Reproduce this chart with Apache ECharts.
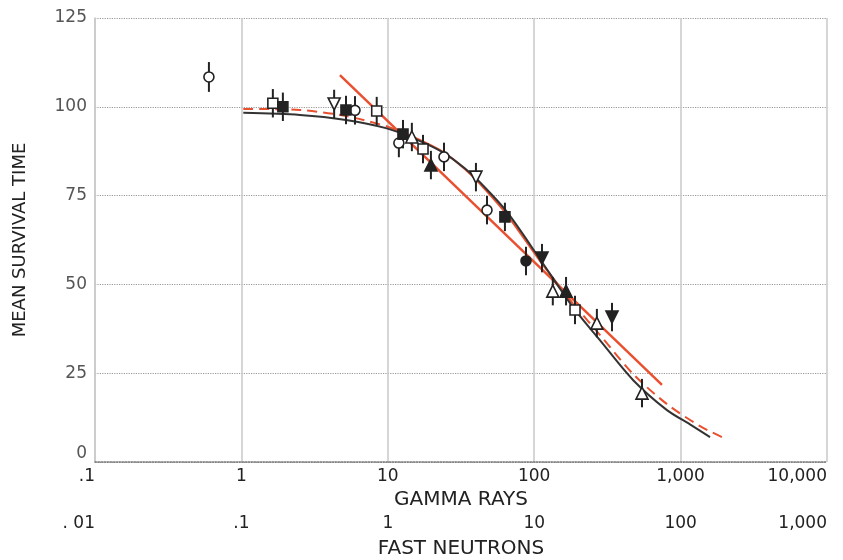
<!DOCTYPE html>
<html>
<head>
<meta charset="utf-8">
<script src="https://cdn.jsdelivr.net/npm/echarts@6/dist/echarts.min.js"></script>
<style>
  html, body { margin: 0; padding: 0; background: #fff; }
  #chart { width: 843px; height: 560px; }
</style>
</head>
<body>
<div id="chart"></div>
<script>
// Mean survival time against dose (gamma rays, with the equivalent fast-neutron scale)

// Tick labels of the two dose scales, one per decade
const gammaTicks = ['.1', '1', '10', '100', '1,000', '10,000'];
const neutronTicks = ['. 01', '.1', '1', '10', '100', '1,000'];
const yTicks = [0, 25, 50, 75, 100, 125];

// Observations grouped by plotting symbol: dose, mean survival time, error half-length
const openCircleX = [0.60, 5.97, 11.9, 24.2, 47.6];
const openCircleY = [108.4, 99.0, 89.8, 85.9, 70.9];
const openCircleErr = [4.2, 4.0, 4.0, 4.0, 4.0];

const filledCircleX = [87.9];
const filledCircleY = [56.6];
const filledCircleErr = [4.0];

const openSquareX = [1.64, 8.4, 17.4, 190];
const openSquareY = [101.0, 98.8, 88.1, 42.8];
const openSquareErr = [4.0, 4.0, 4.0, 4.0];

const filledSquareX = [1.92, 5.18, 12.7, 63.1];
const filledSquareY = [100.0, 99.1, 92.3, 69.0];
const filledSquareErr = [4.0, 4.0, 4.0, 4.0];

const openTriUpX = [14.6, 134, 268, 545];
const openTriUpY = [91.5, 48.1, 39.1, 19.4];
const openTriUpErr = [4.0, 4.0, 4.0, 4.0];

const filledTriUpX = [19.7, 165];
const filledTriUpY = [83.6, 48.1];
const filledTriUpErr = [4.0, 4.0];

const openTriDownX = [4.3, 40];
const openTriDownY = [100.8, 80.2];
const openTriDownErr = [4.0, 4.0];

const filledTriDownX = [113, 340];
const filledTriDownY = [57.4, 40.8];
const filledTriDownErr = [4.0, 4.0];

// Fitted curves
const blackCurveX = [1.03, 2.51, 5.18, 9.7, 14.9, 23.8, 33.7, 46.1, 65.2, 110, 184, 281, 473, 807, 1159, 1589];
const blackCurveY = [98.3, 97.7, 96.3, 94.0, 91.2, 87.2, 82.6, 77.3, 70.4, 57.0, 43.6, 34.3, 23.1, 14.6, 10.6, 7.0];

const redCurveX = [1.03, 2.51, 5.18, 9.7, 14.9, 23.8, 33.7, 46.1, 65.2, 110, 184, 281, 473, 807, 1358, 1920];
const redCurveY = [99.4, 99.1, 97.4, 94.6, 91.5, 87.3, 82.4, 76.8, 69.6, 56.5, 44.6, 35.8, 24.8, 16.3, 10.1, 7.0];

const redLineX = [4.71, 746];
const redLineY = [108.9, 21.7];

const FONT = 'DejaVu Sans';
const INK = '#222';
const RED = '#e8502f';

function zip(xs, ys) { return xs.map((x, i) => [x, ys[i]]); }
function decade(v) { return Math.round(Math.log10(v)); }

const groups = [
  { x: openCircleX, y: openCircleY, e: openCircleErr, symbol: 'circle', filled: false, rot: 0, size: 10 },
  { x: filledCircleX, y: filledCircleY, e: filledCircleErr, symbol: 'circle', filled: true, rot: 0, size: 10 },
  { x: openSquareX, y: openSquareY, e: openSquareErr, symbol: 'rect', filled: false, rot: 0, size: 10 },
  { x: filledSquareX, y: filledSquareY, e: filledSquareErr, symbol: 'rect', filled: true, rot: 0, size: 10 },
  { x: openTriUpX, y: openTriUpY, e: openTriUpErr, symbol: 'triangle', filled: false, rot: 0, size: 12 },
  { x: filledTriUpX, y: filledTriUpY, e: filledTriUpErr, symbol: 'triangle', filled: true, rot: 0, size: 12 },
  { x: openTriDownX, y: openTriDownY, e: openTriDownErr, symbol: 'triangle', filled: false, rot: 180, size: 12 },
  { x: filledTriDownX, y: filledTriDownY, e: filledTriDownErr, symbol: 'triangle', filled: true, rot: 180, size: 12 }
];

const errData = [];
groups.forEach(g => g.x.forEach((x, i) => errData.push([x, g.y[i], g.e[i]])));

// Red fitted curve: dashed on the flat top and on the tail, solid in between
const redSolidFrom = 3, redSolidTo = 10;
const redPts = zip(redCurveX, redCurveY);

const series = [
  {
    type: 'line', data: redPts.slice(0, redSolidFrom + 1), smooth: 0.3, showSymbol: false,
    lineStyle: { color: RED, width: 2, type: [10, 6] }, z: 3, silent: true
  },
  {
    type: 'line', data: redPts.slice(redSolidFrom, redSolidTo + 1), smooth: 0.3, showSymbol: false,
    lineStyle: { color: RED, width: 2 }, z: 3, silent: true
  },
  {
    type: 'line', data: redPts.slice(redSolidTo), smooth: 0.3, showSymbol: false,
    lineStyle: { color: RED, width: 2, type: [10, 6] }, z: 3, silent: true
  },
  {
    type: 'line', data: zip(redLineX, redLineY), showSymbol: false,
    lineStyle: { color: RED, width: 2.5 }, z: 3, silent: true
  },
  {
    type: 'line', data: zip(blackCurveX, blackCurveY), smooth: 0.3, showSymbol: false,
    lineStyle: { color: '#333', width: 2 }, z: 4, silent: true
  },
  {
    type: 'custom', data: errData, z: 5, silent: true,
    renderItem: function (params, api) {
      const x = api.value(0), y = api.value(1), e = api.value(2);
      const a = api.coord([x, y + e]);
      const b = api.coord([x, y - e]);
      return { type: 'line', shape: { x1: a[0], y1: a[1], x2: b[0], y2: b[1] },
               style: { stroke: INK, lineWidth: 2 } };
    }
  }
];

groups.forEach(g => {
  series.push({
    type: 'scatter', data: zip(g.x, g.y), symbol: g.symbol, symbolSize: g.size,
    symbolRotate: g.rot, z: 6, silent: true,
    itemStyle: { color: g.filled ? INK : '#fff', borderColor: INK, borderWidth: 1.6, opacity: 1 }
  });
});

const chart = echarts.init(document.getElementById('chart'), null, { renderer: 'canvas' });
chart.setOption({
  animation: false,
  backgroundColor: '#fff',
  grid: { left: 95, right: 16, top: 18, bottom: 98, containLabel: false, outerBoundsMode: 'none' },
  xAxis: [
    {
      type: 'log', logBase: 10, min: 0.1, max: 10000,
      name: 'GAMMA RAYS', nameLocation: 'middle', nameGap: 25,
      nameTextStyle: { fontFamily: FONT, fontSize: 20, color: INK },
      axisLine: { show: true, lineStyle: { color: '#777', type: 'dotted', width: 1.5 } },
      axisTick: { show: false },
      axisLabel: {
        fontFamily: FONT, fontSize: 17, color: INK, margin: 6,
        alignMinLabel: 'right', alignMaxLabel: 'right',
        formatter: v => gammaTicks[decade(v) + 1]
      },
      splitLine: { show: true, lineStyle: { color: '#c8c8c8', width: 1.5 } },
      minorTick: { show: false }
    },
    {
      type: 'log', logBase: 10, min: 0.01, max: 1000, position: 'bottom', offset: 48,
      name: 'FAST NEUTRONS', nameLocation: 'middle', nameGap: 29,
      nameTextStyle: { fontFamily: FONT, fontSize: 20, color: INK },
      axisLine: { show: false }, axisTick: { show: false }, splitLine: { show: false },
      axisLabel: {
        fontFamily: FONT, fontSize: 17, color: INK, margin: 5,
        alignMinLabel: 'right', alignMaxLabel: 'right',
        formatter: v => neutronTicks[decade(v) + 2]
      }
    }
  ],
  yAxis: {
    type: 'value', min: 0, max: 125, interval: 25,
    name: 'MEAN SURVIVAL TIME', nameLocation: 'middle', nameGap: 66, nameRotate: 90,
    nameTextStyle: { fontFamily: FONT, fontSize: 18, color: INK },
    axisLine: { show: true, lineStyle: { color: '#c8c8c8', width: 1.5 } },
    axisTick: { show: false },
    axisLabel: {
      fontFamily: FONT, fontSize: 17, color: '#555', margin: 8,
      verticalAlignMinLabel: 'bottom',
      formatter: v => (yTicks.indexOf(v) >= 0 ? String(v) : '')
    },
    splitLine: { show: true, lineStyle: { color: '#999', type: 'dotted', width: 1.2 } }
  },
  series: series
});
</script>
</body>
</html>
